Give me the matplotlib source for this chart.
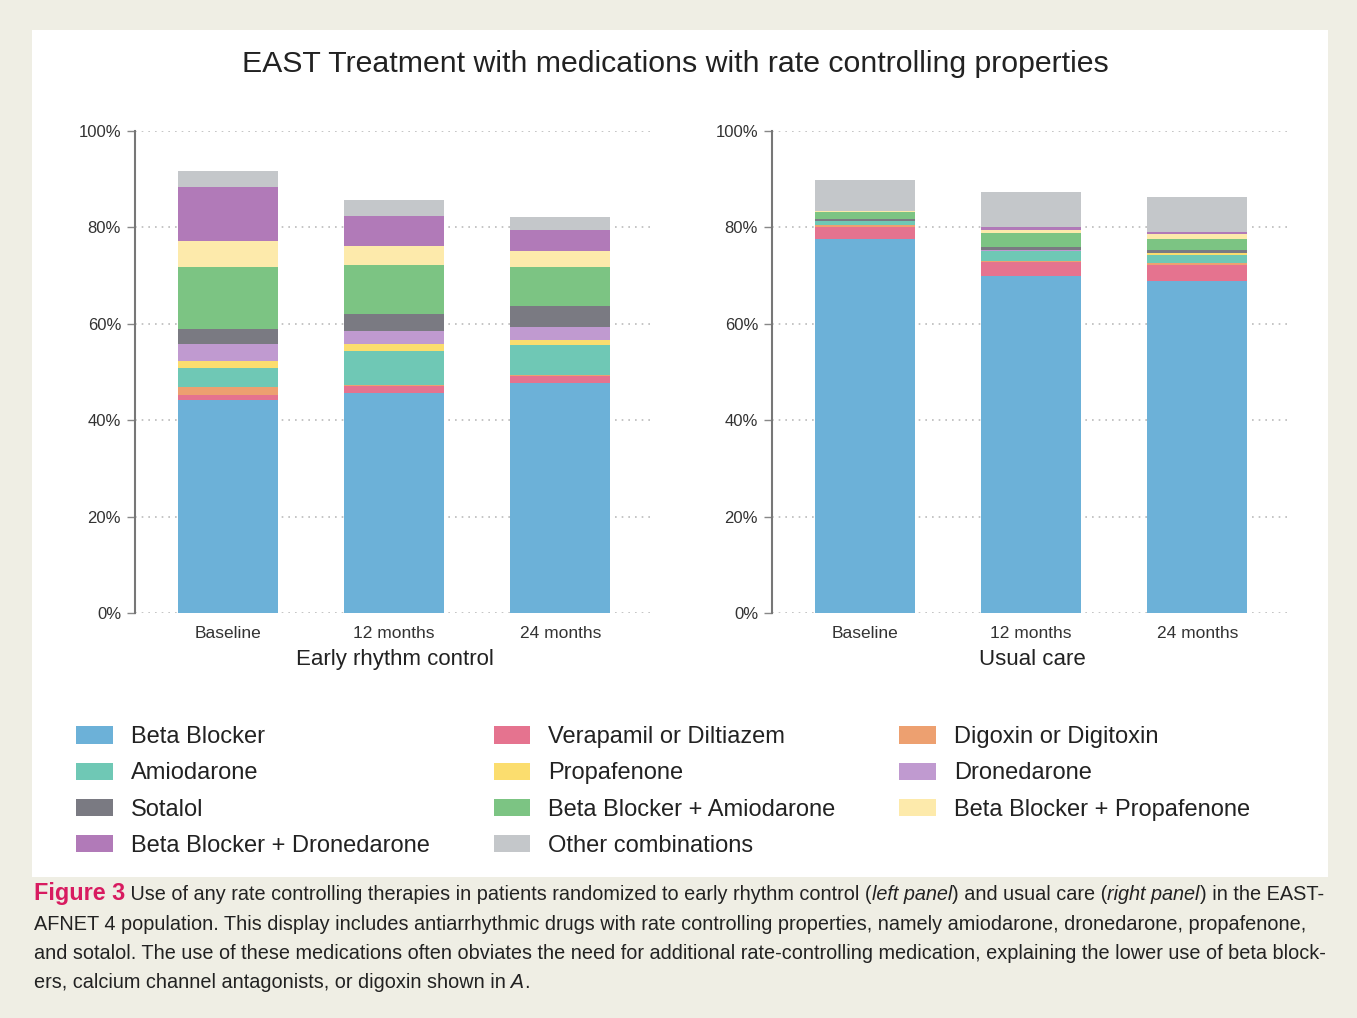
import matplotlib
matplotlib.use("Agg")
import numpy as np
import matplotlib.pyplot as plt
from matplotlib.patches import Rectangle, Patch

plt.rcParams['font.family'] = ['Liberation Sans', 'DejaVu Sans']

# 数据
periods = ['Baseline', '12 months', '24 months']
drugs = ['Beta Blocker', 'Verapamil or Diltiazem', 'Digoxin or Digitoxin',
         'Amiodarone', 'Propafenone', 'Dronedarone',
         'Sotalol', 'Beta Blocker + Amiodarone', 'Beta Blocker + Propafenone',
         'Beta Blocker + Dronedarone', 'Other combinations']
drug_colors = ['#6cb1d8', '#e5738f', '#eda070',
               '#6fc8b5', '#fbdd6e', '#c09ad0',
               '#7a7a82', '#7cc483', '#fdeaab',
               '#b17ab8', '#c4c7ca']

# 百分比，每行一种药物，列为 Baseline / 12 months / 24 months
early_control = [
    [44.2, 45.6, 47.7],
    [1.1, 1.4, 1.4],
    [1.5, 0.35, 0.35],
    [4.0, 7.05, 6.05],
    [1.5, 1.4, 1.1],
    [3.6, 2.7, 2.8],
    [3.0, 3.5, 4.2],
    [12.9, 10.2, 8.1],
    [5.4, 3.9, 3.4],
    [11.1, 6.3, 4.4],
    [3.4, 3.3, 2.7],
]
usual_care = [
    [77.5, 69.9, 68.9],
    [2.6, 2.85, 3.25],
    [0.35, 0.35, 0.5],
    [0.8, 2.0, 1.65],
    [0.05, 0.1, 0.3],
    [0.05, 0.2, 0.1],
    [0.3, 0.55, 0.55],
    [1.6, 2.9, 2.35],
    [0.1, 0.7, 0.95],
    [0.05, 0.55, 0.5],
    [6.4, 7.2, 7.35],
]
panel_titles = ['Early rhythm control', 'Usual care']

W, H = 1357, 1018
fig = plt.figure(figsize=(W / 100, H / 100), dpi=100, facecolor='#efeee4')

# 白色底板
fig.patches.append(Rectangle((32 / W, 1 - 877 / H), (1328 - 32) / W, (877 - 30) / H,
                             transform=fig.transFigure, facecolor='white',
                             edgecolor='none', zorder=-5))

fig.text(675 / W, 1 - 64 / H, 'EAST Treatment with medications with rate controlling properties',
         ha='center', va='center', fontsize=21.8, color='#222222')

ax_w = (655 - 135) / W
ax_h = (613 - 131) / H
for left_px, data, label in [(135, early_control, panel_titles[0]),
                             (772, usual_care, panel_titles[1])]:
    ax = fig.add_axes([left_px / W, 1 - 613 / H, ax_w, ax_h], zorder=2)
    ax.set_facecolor('none')
    x = np.arange(len(periods))
    bottom = np.zeros(len(periods))
    for vals, c in zip(data, drug_colors):
        vals = np.array(vals)
        ax.bar(x, vals, width=0.6, bottom=bottom, color=c, edgecolor='none', zorder=2)
        bottom += vals
    ax.set_xlim(-0.56, 2.57)
    ax.set_ylim(0, 100)
    ax.set_yticks(np.arange(0, 101, 20))
    ax.set_yticklabels([f'{v}%' for v in range(0, 101, 20)], fontsize=12, color='#333333')
    ax.set_xticks(x)
    ax.set_xticklabels(periods, fontsize=12.5, color='#333333')
    ax.set_xlabel(label, fontsize=16, color='#222222', labelpad=6)
    ax.tick_params(axis='x', length=0, pad=9)
    ax.tick_params(axis='y', length=6, width=1, color='#888888', pad=4)
    for s in ['top', 'right', 'bottom']:
        ax.spines[s].set_visible(False)
    ax.spines['left'].set_color('#777777')
    ax.spines['left'].set_linewidth(1.5)
    ax.grid(axis='y', linestyle=(0, (1, 3)), color='#bbbbbb', linewidth=1.2, zorder=0)
    ax.set_axisbelow(True)

# 图例按行排列（matplotlib 默认按列填充）
order = [0, 3, 6, 9, 1, 4, 7, 10, 2, 5, 8]
handles = [Patch(facecolor=drug_colors[i], edgecolor='none') for i in order]
labels = [drugs[i] for i in order]
fig.legend(handles, labels, ncol=3, loc='upper left',
           bbox_to_anchor=(55 / W, 1 - 705 / H), frameon=False,
           fontsize=17, handlelength=1.55, handleheight=0.75,
           handletextpad=0.75, columnspacing=2.72, labelspacing=0.6,
           labelcolor='#222222')

# 图注
fig.canvas.draw()
renderer = fig.canvas.get_renderer()
cap_size = 14.3
red = '#d81b60'
lines = [
    [('Figure 3', dict(weight='bold', color=red, size=cap_size + 2.5)),
     (' Use of any rate controlling therapies in patients randomized to early rhythm control (', {}),
     ('left panel', dict(style='italic')),
     (') and usual care (', {}),
     ('right panel', dict(style='italic')),
     (') in the EAST-', {})],
    [('AFNET 4 population. This display includes antiarrhythmic drugs with rate controlling properties, namely amiodarone, dronedarone, propafenone,', {})],
    [('and sotalol. The use of these medications often obviates the need for additional rate-controlling medication, explaining the lower use of beta block-', {})],
    [('ers, calcium channel antagonists, or digoxin shown in', {}),
     (' A', dict(style='italic')),
     ('.', {})],
]
baselines = [900, 930, 959, 988]
for pieces, yb in zip(lines, baselines):
    xpos = 34 / W
    for txt, kw in pieces:
        opts = dict(size=cap_size, color='#222222')
        opts.update(kw)
        t = fig.text(xpos, 1 - yb / H, txt, ha='left', va='baseline', **opts)
        xpos += t.get_window_extent(renderer).width / W

fig.savefig('out.png', dpi=100, facecolor=fig.get_facecolor())
